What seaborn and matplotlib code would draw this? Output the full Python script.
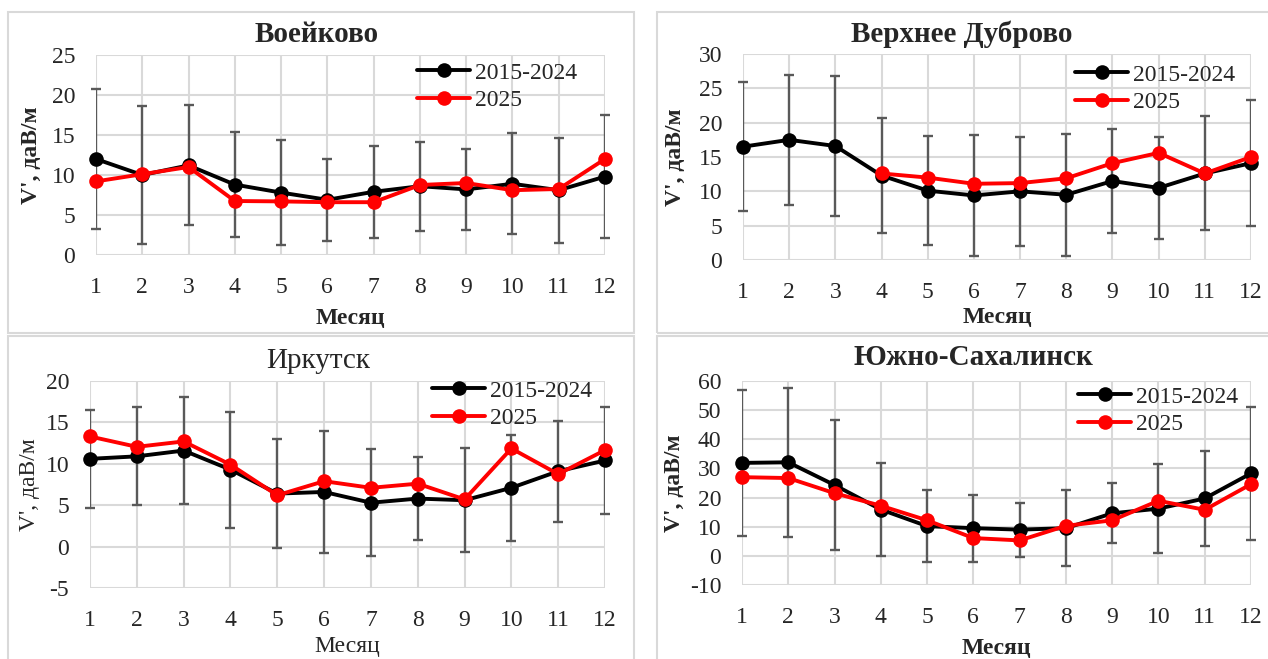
import numpy as np
import pandas as pd
import seaborn as sns
import matplotlib.pyplot as plt
from matplotlib.patches import Rectangle

months = list(range(1, 13))
series_names = ['2015-2024', '2025']

# Воейково
voeikovo_mean = [12.0, 10.0, 11.2, 8.8, 7.8, 6.9, 7.9, 8.6, 8.2, 8.9, 8.1, 9.8]
voeikovo_2025 = [9.2, 10.1, 11.0, 6.75, 6.7, 6.6, 6.6, 8.75, 9.0, 8.1, 8.25, 12.0]
voeikovo_sd = [8.8, 8.6, 7.5, 6.6, 6.6, 5.1, 5.75, 5.55, 5.1, 6.3, 6.55, 7.7]

# Верхнее Дуброво
dubrovo_mean = [16.5, 17.5, 16.6, 12.3, 10.1, 9.4, 10.0, 9.5, 11.5, 10.5, 12.6, 14.1]
dubrovo_2025 = [np.nan, np.nan, np.nan, 12.6, 12.0, 11.1, 11.2, 11.9, 14.1, 15.6, 12.6, 15.0]
dubrovo_sd = [9.4, 9.45, 10.2, 8.35, 7.95, 8.8, 7.9, 8.9, 7.6, 7.4, 8.3, 9.2]

# Иркутск
irkutsk_mean = [10.6, 10.9, 11.6, 9.3, 6.4, 6.6, 5.3, 5.8, 5.6, 7.1, 9.1, 10.4]
irkutsk_2025 = [13.3, 12.05, 12.7, 9.9, 6.2, 7.9, 7.1, 7.6, 5.7, 11.85, 8.75, 11.65]
irkutsk_sd = [5.9, 5.9, 6.45, 7.0, 6.6, 7.4, 6.45, 5.0, 6.3, 6.4, 6.1, 6.5]

# Южно-Сахалинск
sakhalin_mean = [31.9, 32.1, 24.3, 15.9, 10.2, 9.5, 9.0, 9.5, 14.6, 16.2, 19.7, 28.3]
sakhalin_2025 = [27.0, 26.7, 21.5, 17.2, 12.2, 6.1, 5.3, 10.3, 12.2, 18.9, 15.8, 24.6]
sakhalin_sd = [25.1, 25.6, 22.15, 16.05, 12.3, 11.5, 9.3, 13.1, 10.35, 15.2, 16.2, 22.9]

W, H = 1268, 659

sns.set_style('white')
plt.rcParams['font.family'] = ['Liberation Serif', 'DejaVu Serif']
plt.rcParams['axes.unicode_minus'] = False

fig = plt.figure(figsize=(W / 100, H / 100), dpi=100)

# panel frames (x0, y0, x1, y1 in pixels from top-left)
frames = [(8, 12, 634, 333), (657, 12, 1275, 333), (8, 336, 634, 670), (657, 336, 1275, 670)]
for x0, y0, x1, y1 in frames:
    fig.patches.append(Rectangle((x0 / W, 1 - y1 / H), (x1 - x0) / W, (y1 - y0) / H,
                                 transform=fig.transFigure, fill=False,
                                 edgecolor='#d9d9d9', linewidth=1.5))

panels = [
    dict(title='Воейково', mean=voeikovo_mean, new=voeikovo_2025, sd=voeikovo_sd,
         box=(96, 55, 605, 255), ylim=(0, 25), step=5, bold=True,
         title_xy=(317, 34), legend_xy=(417, 62), xlab=-0.315, ylab=-0.126),
    dict(title='Верхнее Дуброво', mean=dubrovo_mean, new=dubrovo_2025, sd=dubrovo_sd,
         box=(743, 54, 1251, 260), ylim=(0, 30), step=5, bold=True,
         title_xy=(962, 34), legend_xy=(1075, 64), xlab=-0.28, ylab=-0.132),
    dict(title='Иркутск', mean=irkutsk_mean, new=irkutsk_2025, sd=irkutsk_sd,
         box=(90, 381, 605, 588), ylim=(-5, 20), step=5, bold=False,
         title_xy=(318, 361), legend_xy=(432, 380), xlab=-0.285, ylab=-0.117),
    dict(title='Южно-Сахалинск', mean=sakhalin_mean, new=sakhalin_2025, sd=sakhalin_sd,
         box=(742, 381, 1251, 585), ylim=(-10, 60), step=10, bold=True,
         title_xy=(973, 358), legend_xy=(1078, 386), xlab=-0.31, ylab=-0.132),
]

fs = 17
for p in panels:
    x0, y0, x1, y1 = p['box']
    ax = fig.add_axes([x0 / W, 1 - y1 / H, (x1 - x0) / W, (y1 - y0) / H])
    weight = 'bold' if p['bold'] else 'normal'

    df = pd.DataFrame({
        'month': months * 2,
        'value': list(p['mean']) + list(p['new']),
        'series': [series_names[0]] * 12 + [series_names[1]] * 12,
    })

    ax.errorbar(months, p['mean'], yerr=p['sd'], fmt='none', ecolor='#595959',
                elinewidth=1.7, capsize=3.5, capthick=1.7, zorder=1)

    sns.lineplot(data=df, x='month', y='value', hue='series',
                 palette={'2015-2024': 'black', '2025': '#ff0000'},
                 marker='o', markersize=10.5, markeredgewidth=0, linewidth=2.8,
                 errorbar=None, ax=ax, zorder=3)
    for ln in ax.lines:
        ln.set_clip_on(False)

    ax.set_xlim(1, 12)
    ax.set_ylim(*p['ylim'])
    ax.set_xticks(months)
    ax.set_yticks(np.arange(p['ylim'][0], p['ylim'][1] + 0.1, p['step']))
    ax.tick_params(length=0, labelsize=fs)
    ax.tick_params(axis='x', pad=16)
    ax.tick_params(axis='y', pad=15)
    ax.grid(True, color='#d9d9d9', linewidth=1.5)
    for s in ax.spines.values():
        s.set_visible(False)

    ax.set_xlabel('Месяц', fontsize=fs, fontweight=weight)
    ax.xaxis.label.set_va('center')
    ax.xaxis.set_label_coords(0.5, p['xlab'])
    ax.set_ylabel("V', даВ/м", fontsize=fs, fontweight=weight)
    ax.yaxis.label.set_va('center')
    ax.yaxis.set_label_coords(p['ylab'], 0.5)

    fig.text(p['title_xy'][0] / W, 1 - p['title_xy'][1] / H, p['title'],
             ha='center', va='center', fontsize=21, fontweight=weight)

    lx, ly = p['legend_xy']
    leg = ax.legend(loc='upper left', bbox_to_anchor=(lx / W, 1 - ly / H),
                    bbox_transform=fig.transFigure, frameon=False, fontsize=fs,
                    handlelength=2.25, handletextpad=0.2, labelspacing=0.27,
                    borderpad=0, borderaxespad=0)

fig.savefig('out.png', dpi=100)
